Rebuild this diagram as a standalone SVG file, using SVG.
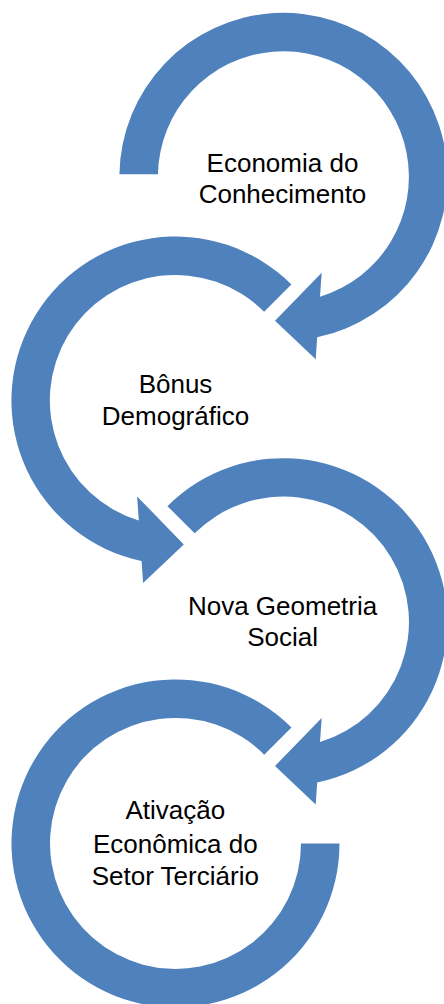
<svg xmlns="http://www.w3.org/2000/svg" width="444" height="1004" viewBox="0 0 444 1004">
  <style>
    .arrow { fill: #4F81BD; stroke: none; }
    .label { font-family: "Liberation Sans", Arial, sans-serif; font-size: 26px; fill: #000000; text-anchor: middle; }
  </style>
  <rect x="0" y="0" width="444" height="1004" fill="#FFFFFF"/>
  <g id="connectors"></g>
  <g id="node1">
    <path class="arrow" d="M119.42,174.3 A164,164 0 1 1 317.2,337.3 L315.7,359.3 L275,320.7 L321.7,272.7 L320,296.8 A125.5,125.5 0 1 0 157.92,174.3 Z"/>
    <text class="label" x="282.5" y="172.3">Economia do</text>
    <text class="label" x="282.5" y="203.3">Conhecimento</text>
  </g>
  <g id="node2">
    <path class="arrow" d="M291.37,284.53 A164,164 0 1 0 141.6,561 L143.1,583 L183.8,544.4 L137.1,496.4 L138.8,520.5 A125.5,125.5 0 1 1 264.14,311.76 Z"/>
    <text class="label" x="175.5" y="393.3">Bônus</text>
    <text class="label" x="175.5" y="425">Demográfico</text>
  </g>
  <g id="node3">
    <path class="arrow" d="M167.43,506.13 A164,164 0 1 1 317.2,782.6 L315.7,804.6 L275,766 L321.7,718 L320,742.1 A125.5,125.5 0 1 0 194.66,533.36 Z"/>
    <text class="label" x="282.6" y="615">Nova Geometria</text>
    <text class="label" x="282.6" y="646">Social</text>
  </g>
  <g id="node4">
    <path class="arrow" d="M291.47,727.43 A164,164 0 1 0 339.5,843.4 L301,843.4 A125.5,125.5 0 1 1 264.24,754.66 Z"/>
    <text class="label" x="175.3" y="819.3">Ativação</text>
    <text class="label" x="175.3" y="852.5">Econômica do</text>
    <text class="label" x="175.3" y="884.8">Setor Terciário</text>
  </g>
</svg>
